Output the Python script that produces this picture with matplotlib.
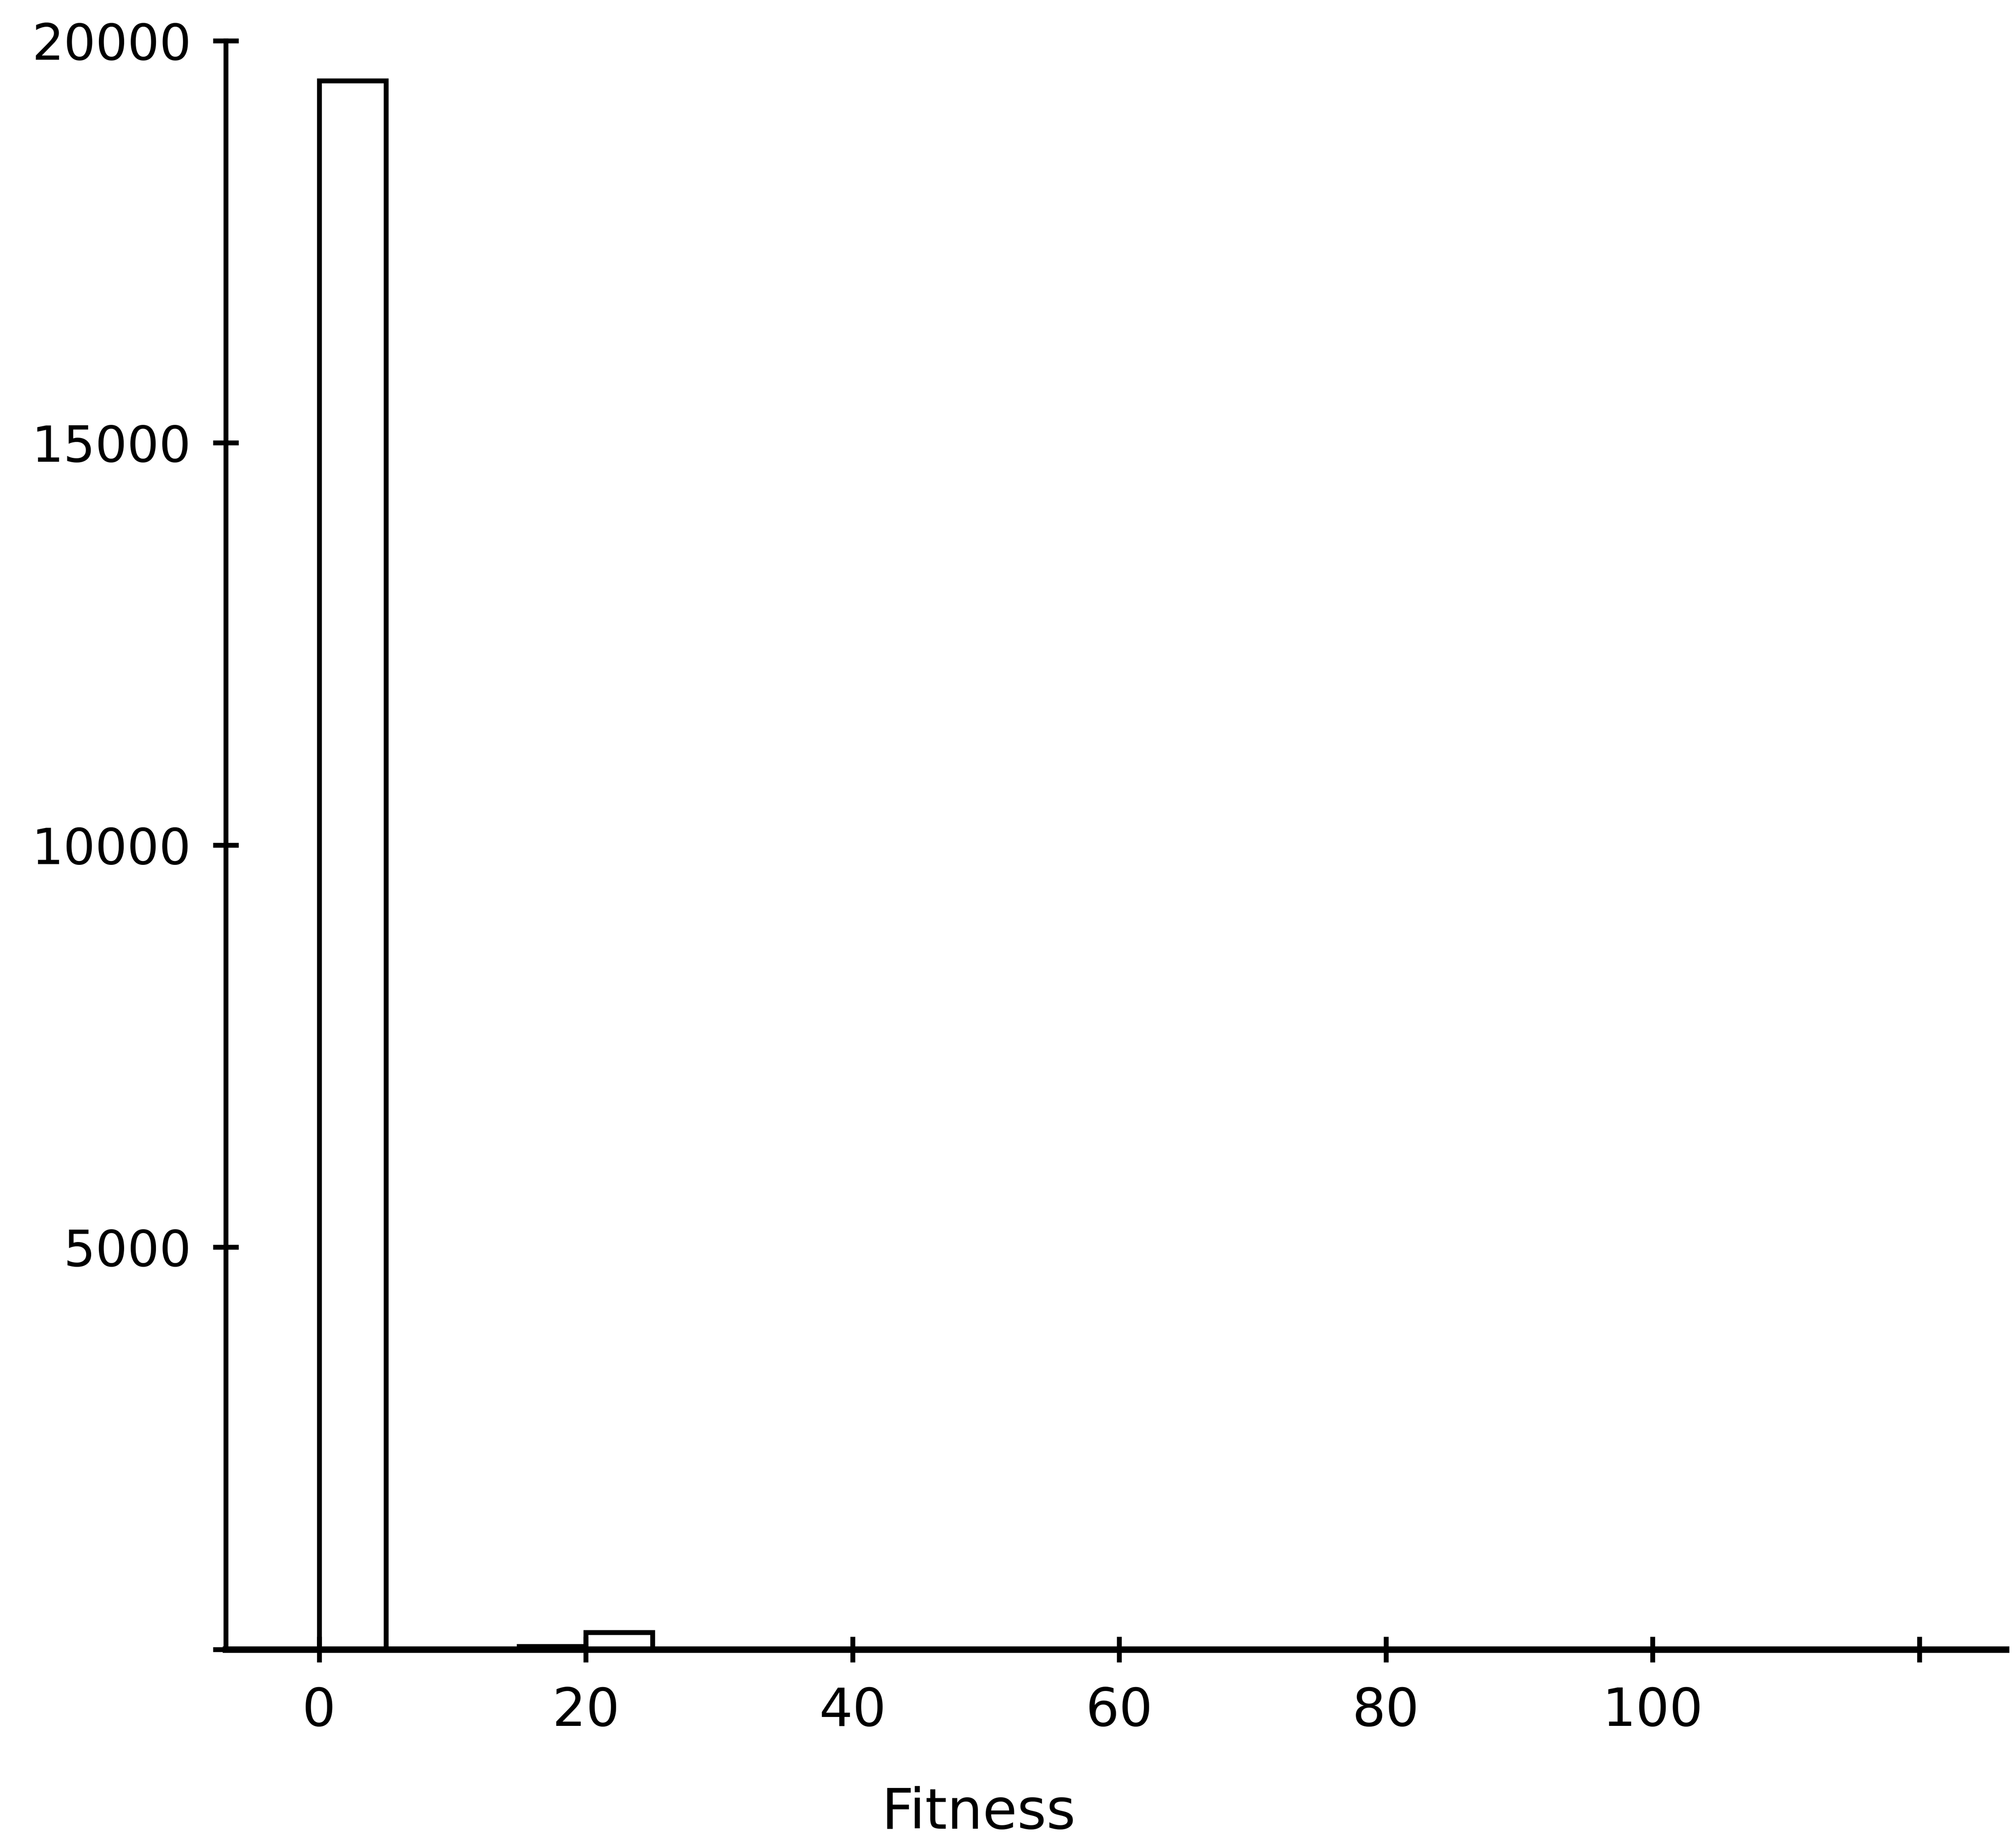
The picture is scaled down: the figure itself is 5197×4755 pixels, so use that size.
import numpy as np
import matplotlib
matplotlib.use('Agg')
import matplotlib.pyplot as plt

# Histogram of fitness values (bins of width 5)
bin_left = [0, 5, 10, 15, 20, 25, 30, 35, 40, 45, 50, 55, 60, 65, 70, 75,
            80, 85, 90, 95, 100, 105, 110, 115, 120]
counts = [19500, 0, 0, 40, 210, 0, 0, 0, 0, 0, 0, 0, 0, 0, 0, 0,
          0, 0, 0, 0, 0, 0, 0, 0, 0]
bin_width = 5

x_ticks = [0, 20, 40, 60, 80, 100, 120]
x_labels = ['0', '20', '40', '60', '80', '100', '']
y_ticks = [0, 5000, 10000, 15000, 20000]
y_labels = ['', '5000', '10000', '15000', '20000']

fig = plt.figure(figsize=(51.97, 47.55), dpi=100)
ax = fig.add_axes([0.112, 0.106, 0.883, 0.872])

# Draw histogram bars (outlined only)
ax.bar(bin_left, counts, width=bin_width, align='edge', fill=False,
       edgecolor='black', linewidth=9)

ax.set_xlim(-7, 126.5)
ax.set_ylim(0, 20000)

ax.spines['top'].set_visible(False)
ax.spines['right'].set_visible(False)
ax.spines['left'].set_linewidth(9)
ax.spines['bottom'].set_linewidth(12)

ax.set_xticks(x_ticks)
ax.set_xticklabels(x_labels)
ax.set_yticks(y_ticks)
ax.set_yticklabels(y_labels)
ax.tick_params(axis='both', direction='inout', length=48, width=9)
ax.tick_params(axis='x', labelsize=98, pad=44)
ax.tick_params(axis='y', labelsize=93, pad=40)

ax.set_xlabel('Fitness', fontsize=104)
ax.xaxis.set_label_coords(0.423, -0.085)

plt.savefig('out.png', dpi=100)
